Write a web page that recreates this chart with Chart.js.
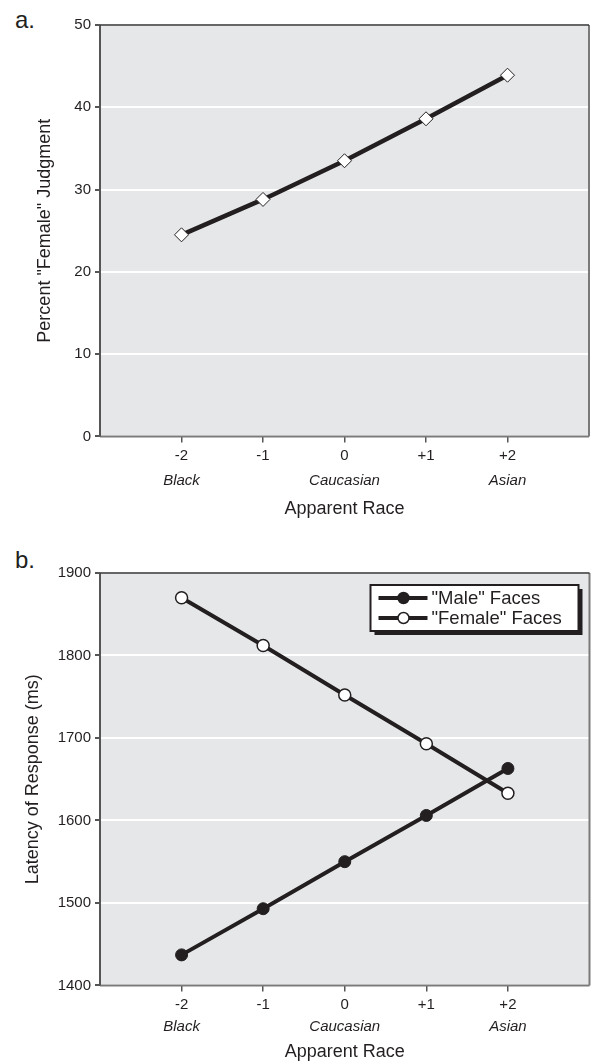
<!DOCTYPE html>
<html>
<head>
<meta charset="utf-8">
<script src="https://cdn.jsdelivr.net/npm/chart.js@4/dist/chart.umd.min.js"></script>
<style>
  body { margin: 0; background: #fff; overflow: hidden; }
  #wrap { position: relative; width: 591px; height: 1063px; overflow: hidden; }
  canvas { position: absolute; left: 0; }
  .panel { position: absolute; left: 15px; font: 24px "Liberation Sans", Arial, sans-serif; color: #231f20; }
</style>
</head>
<body>
<div id="wrap">
  <div class="panel" style="top:6px">a.</div>
  <!-- canvases a little wider than the page: the axes keep a few px spare on the right -->
  <canvas id="chartA" width="597" height="520" style="top:0"></canvas>
  <div class="panel" style="top:546px">b.</div>
  <canvas id="chartB" width="597" height="523" style="top:540px"></canvas>
</div>
<script>
// apparent race steps on the x axis, with the names under some of them
const raceSteps = [-2, -1, 0, 1, 2];
const raceNamed = [-2, 0, 2];
const raceNames = ['Black', 'Caucasian', 'Asian'];

// panel a: percent "female" judgment
const pctFemale = [24.5, 28.8, 33.5, 38.6, 43.9];

// panel b: latency of response (ms)
const latencyMale = [1437, 1493, 1550, 1606, 1663];
const latencyFemale = [1870, 1812, 1752, 1693, 1633];
const seriesNames = ['"Male" Faces', '"Female" Faces'];

const ink = '#231f20';
const FONT = '"Liberation Sans", Arial, sans-serif';
Chart.defaults.font.family = FONT;
Chart.defaults.color = ink;

function points(values) {
    return raceSteps.map((x, i) => ({ x: x, y: values[i] }));
}

// gray plot area and its frame
const plotFrame = {
    id: 'plotFrame',
    beforeDraw(chart) {
        const a = chart.chartArea, ctx = chart.ctx;
        ctx.save();
        ctx.fillStyle = '#e6e7e9';
        ctx.fillRect(a.left, a.top, a.right - a.left, a.bottom - a.top);
        ctx.restore();
    },
    beforeDatasetsDraw(chart) {
        const a = chart.chartArea, ctx = chart.ctx;
        ctx.save();
        ctx.lineWidth = 2;
        ctx.strokeStyle = '#7a7a7a';
        ctx.beginPath();
        ctx.moveTo(a.left, a.bottom); ctx.lineTo(a.right, a.bottom);
        ctx.moveTo(a.right, a.bottom); ctx.lineTo(a.right, a.top);
        ctx.stroke();
        ctx.strokeStyle = '#555';
        ctx.beginPath();
        ctx.moveTo(a.left, a.bottom); ctx.lineTo(a.left, a.top);
        ctx.stroke();
        ctx.lineWidth = 1.5;
        ctx.strokeStyle = '#333';
        ctx.beginPath();
        ctx.moveTo(a.left, a.top); ctx.lineTo(a.right, a.top);
        ctx.stroke();
        ctx.restore();
    }
};

// boxed legend with a drop shadow, top right of the plot
const boxLegend = {
    id: 'boxLegend',
    afterDatasetsDraw(chart) {
        const a = chart.chartArea, ctx = chart.ctx;
        const w = 208, h = 46;
        const left = a.right - 11 - w, top = a.top + 12;
        ctx.save();
        ctx.fillStyle = ink;
        ctx.fillRect(left + 4, top + 4, w, h);
        ctx.fillStyle = '#fff';
        ctx.fillRect(left, top, w, h);
        ctx.lineWidth = 2;
        ctx.strokeStyle = ink;
        ctx.strokeRect(left, top, w, h);

        chart.data.datasets.forEach((ds, i) => {
            const y = top + 13 + i * 20;
            ctx.lineWidth = 4;
            ctx.strokeStyle = ink;
            ctx.beginPath();
            ctx.moveTo(left + 8, y); ctx.lineTo(left + 57, y);
            ctx.stroke();
            ctx.lineWidth = 1.5;
            ctx.fillStyle = ds.pointBackgroundColor;
            ctx.beginPath();
            ctx.arc(left + 33, y, 5.5, 0, Math.PI * 2);
            ctx.fill();
            ctx.stroke();
            ctx.fillStyle = ink;
            ctx.font = '18.5px ' + FONT;
            ctx.textBaseline = 'middle';
            ctx.fillText(ds.label, left + 61, y + 1);
        });
        ctx.restore();
    }
};

function noSidePad(s) {
    s.paddingLeft = 0;
    s.paddingRight = 0;
}

function xAxes(namePad) {
    return {
        x: {
            type: 'linear', position: 'bottom', min: -3, max: 3, weight: 0,
            afterBuildTicks: s => { s.ticks = raceSteps.map(v => ({ value: v })); },
            afterFit: s => { s.height = 26; noSidePad(s); },
            grid: { drawOnChartArea: false, tickLength: 6, tickColor: '#555', lineWidth: 1.5 },
            border: { display: false },
            ticks: { padding: 4, font: { size: 15 }, color: ink,
                     callback: v => (v > 0 ? '+' + v : String(v)) }
        },
        x2: {
            type: 'linear', position: 'bottom', min: -3, max: 3, weight: 1,
            afterBuildTicks: s => { s.ticks = raceNamed.map(v => ({ value: v })); },
            afterFit: s => { noSidePad(s); },
            grid: { display: false, drawTicks: false },
            border: { display: false },
            ticks: { padding: namePad, font: { size: 15, style: 'italic' }, color: ink,
                     callback: v => raceNames[raceNamed.indexOf(v)] },
            title: { display: true, text: 'Apparent Race', font: { size: 18 }, color: ink,
                     padding: { top: 0, bottom: 0 } }
        }
    };
}

function yAxis(min, max, step, label, titlePad) {
    return {
        type: 'linear', min: min, max: max,
        ticks: { stepSize: step, padding: 4, font: { size: 15 }, color: ink,
                 callback: v => String(v) },
        afterFit: s => { s.width = 100; },
        grid: { color: '#fff', lineWidth: 2, tickLength: 5, tickColor: '#555' },
        border: { display: false },
        title: { display: true, text: label, font: { size: 18 }, color: ink,
                 padding: { top: titlePad, bottom: 0 } }
    };
}

const common = {
    responsive: false,
    animation: false,
    devicePixelRatio: 1,
    plugins: { legend: { display: false }, tooltip: { enabled: false } }
};

new Chart(document.getElementById('chartA'), {
    type: 'line',
    data: {
        datasets: [{
            label: 'Percent "Female" Judgment',
            data: points(pctFemale),
            borderColor: ink, borderWidth: 4.5,
            pointStyle: 'rectRot', pointRadius: 7,
            pointBackgroundColor: '#fff', pointBorderColor: ink, pointBorderWidth: 1
        }]
    },
    options: Object.assign({}, common, {
        layout: { padding: { top: 25, right: 0, left: 0, bottom: 0 } },
        scales: Object.assign(xAxes(9), {
            y: yAxis(0, 50, 10, 'Percent "Female" Judgment', 34)
        })
    }),
    plugins: [plotFrame]
});

new Chart(document.getElementById('chartB'), {
    type: 'line',
    data: {
        datasets: [{
            label: seriesNames[0],
            data: points(latencyMale),
            borderColor: ink, borderWidth: 4,
            pointRadius: 6, pointBackgroundColor: ink, pointBorderColor: ink, pointBorderWidth: 1
        }, {
            label: seriesNames[1],
            data: points(latencyFemale),
            borderColor: ink, borderWidth: 4,
            pointRadius: 6, pointBackgroundColor: '#fff', pointBorderColor: ink, pointBorderWidth: 1.5
        }]
    },
    options: Object.assign({}, common, {
        layout: { padding: { top: 33, right: 0, left: 0, bottom: 0 } },
        scales: Object.assign(xAxes(6), {
            y: yAxis(1400, 1900, 100, 'Latency of Response (ms)', 22)
        })
    }),
    plugins: [plotFrame, boxLegend]
});
</script>
</body>
</html>
